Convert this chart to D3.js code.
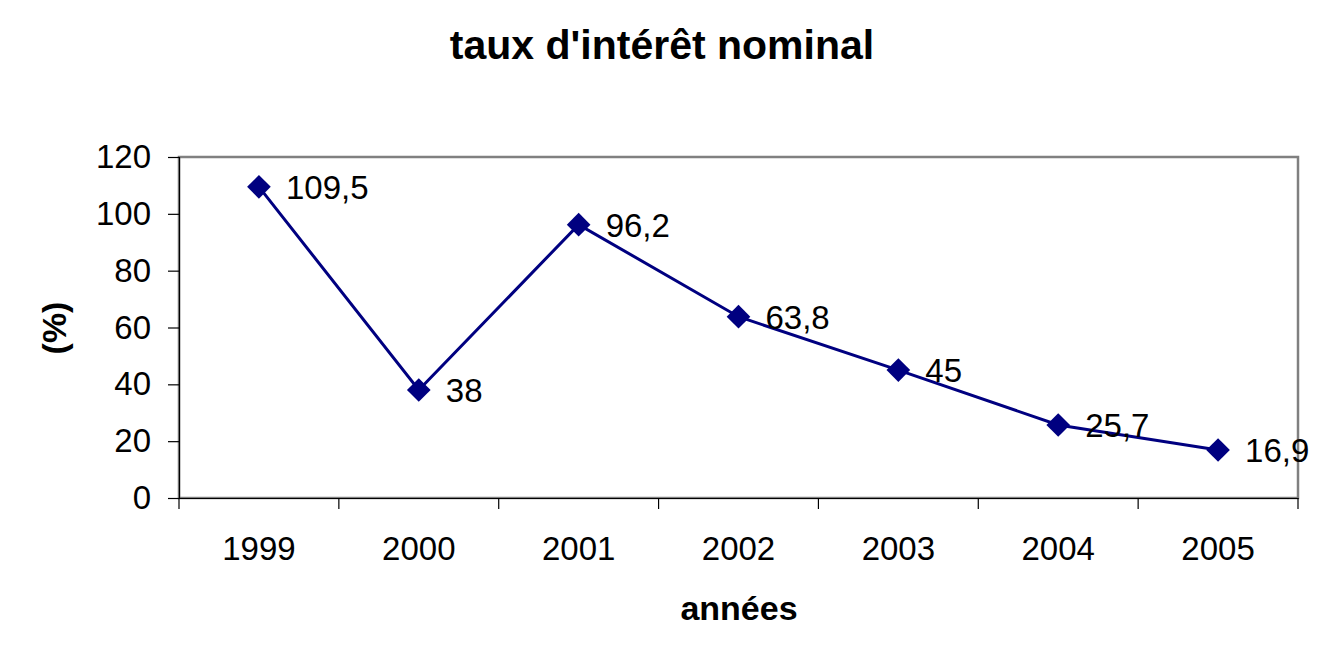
<!DOCTYPE html>
<html><head><meta charset="utf-8">
<script src="https://cdn.jsdelivr.net/npm/d3@7"></script>
<style>body{margin:0;background:#fff}svg{display:block}text{font-family:Arial,"Liberation Sans",sans-serif}</style>
</head><body>
<svg id="c" width="1319" height="665"></svg>
<script>
const years = ["1999","2000","2001","2002","2003","2004","2005"];
const rates = [109.5, 38, 96.2, 63.8, 45, 25.7, 16.9];
const rateLabels = ["109,5","38","96,2","63,8","45","25,7","16,9"];
const yTicks = [0,20,40,60,80,100,120];
const title = "taux d'intérêt nominal";
const xTitle = "années";
const yTitle = "(%)";

const svg = d3.select("#c");
const L=179, R=1298, T=157, B=498;
const x = d3.scaleBand().domain(years).range([L,R]).padding(0);
const y = d3.scaleLinear().domain([0,120]).range([B,T]);
const fs = 33;
const ff = "Arial,'Liberation Sans',sans-serif";

svg.append("rect").attr("x",L).attr("y",T).attr("width",R-L).attr("height",B-T)
  .attr("fill","#fff").attr("stroke","#808080").attr("stroke-width",2.5);

const ya = svg.append("g").attr("transform",`translate(${L},0)`)
  .call(d3.axisLeft(y).tickValues(yTicks).tickSize(11).tickPadding(17));
ya.select(".domain").attr("stroke","#000").attr("stroke-width",1.2);
ya.selectAll(".tick line").attr("stroke","#000").attr("stroke-width",1.2);
ya.selectAll("text").attr("font-size",fs).attr("fill","#000").attr("font-family",ff);

const xa = svg.append("g").attr("transform",`translate(0,${B})`)
  .call(d3.axisBottom(x).tickSize(0).tickPadding(39));
xa.select(".domain").attr("stroke","#000").attr("stroke-width",1.2);
xa.selectAll("text").attr("font-size",fs).attr("fill","#000").attr("font-family",ff);
const bounds = years.map(d=>x(d)).concat([R]);
svg.append("g").selectAll("line").data(bounds).join("line")
  .attr("x1",d=>d).attr("x2",d=>d).attr("y1",B).attr("y2",B+11)
  .attr("stroke","#000").attr("stroke-width",1.2);

const cx = d=>x(d)+x.bandwidth()/2;
svg.append("path").datum(rates)
  .attr("d",d3.line().x((d,i)=>cx(years[i])).y(d=>y(d)))
  .attr("fill","none").attr("stroke","#000080").attr("stroke-width",3);

svg.append("g").selectAll("path").data(rates).join("path")
  .attr("d",d3.symbol().type(d3.symbolSquare).size(280)())
  .attr("transform",(d,i)=>`translate(${cx(years[i])},${y(d)}) rotate(45)`)
  .attr("fill","#000080");

svg.append("g").selectAll("text").data(rates).join("text")
  .attr("x",(d,i)=>cx(years[i])+27).attr("y",d=>y(d)).attr("dy","0.36em")
  .attr("font-size",fs).attr("fill","#000").text((d,i)=>rateLabels[i]);

svg.append("text").attr("x",662).attr("y",59).attr("text-anchor","middle")
  .attr("font-size",41).attr("font-weight","bold").text(title);
svg.append("text").attr("x",739).attr("y",620).attr("text-anchor","middle")
  .attr("font-size",34).attr("font-weight","bold").text(xTitle);
svg.append("text").attr("transform","translate(66,328) rotate(-90)").attr("text-anchor","middle")
  .attr("font-size",34).attr("font-weight","bold").text(yTitle);
</script>
</body></html>
